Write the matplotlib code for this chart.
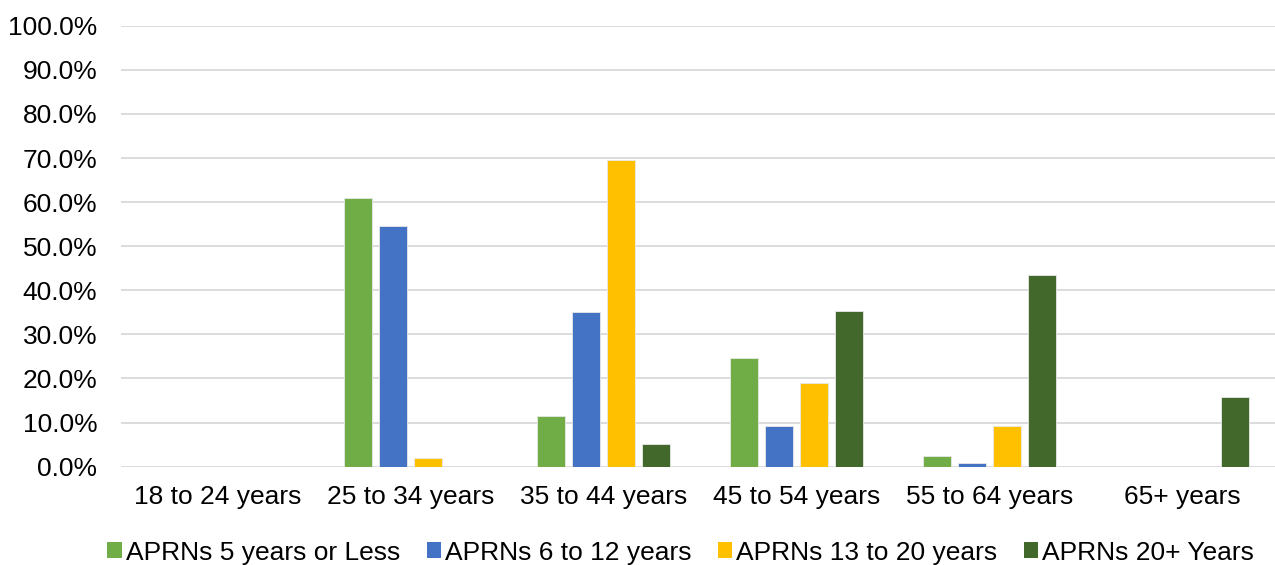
import matplotlib.pyplot as plt
import numpy as np
from matplotlib.patches import Patch
from matplotlib.ticker import FuncFormatter

plt.rcParams['font.family'] = ['Liberation Sans', 'DejaVu Sans']

# age bands and share of APRNs in each, by years of experience (%)
age_groups = ["18 to 24 years", "25 to 34 years", "35 to 44 years",
              "45 to 54 years", "55 to 64 years", "65+ years"]
series_names = ["APRNs 5 years or Less", "APRNs 6 to 12 years",
                "APRNs 13 to 20 years", "APRNs 20+ Years"]
five_or_less = [0, 60.9, 11.6, 24.6, 2.5, 0]
six_to_twelve = [0, 54.5, 35.1, 9.3, 0.8, 0]
thirteen_to_twenty = [0, 1.9, 69.5, 18.9, 9.3, 0]
twenty_plus = [0, 0, 5.1, 35.3, 43.5, 15.7]

colors = ["#70AD47", "#4472C4", "#FFC000", "#43682B"]
values = [five_or_less, six_to_twelve, thirteen_to_twenty, twenty_plus]

fig = plt.figure(figsize=(12.75, 5.65), dpi=100)
ax = fig.add_axes([0.0947, 0.174, 0.9053, 0.7805])

x = np.arange(len(age_groups))
step = 0.1813
width = 0.1435
for i, (vals, col) in enumerate(zip(values, colors)):
    v = np.array(vals, dtype=float)
    mask = v > 0
    ax.bar(x[mask] + (i - 1.5) * step, v[mask], width=width, color=col,
           edgecolor="#E8E8E8", linewidth=0.6, zorder=3)

ax.set_ylim(0, 100)
ax.set_xlim(-0.5, 5.48)
ax.set_yticks(np.arange(0, 101, 10))
ax.yaxis.set_major_formatter(FuncFormatter(lambda v, p: f"{v:.1f}%"))
ax.set_xticks(x)
ax.set_xticklabels(age_groups)
ax.grid(axis="y", color="#D9D9D9", linewidth=1.3, zorder=0)
for s in ax.spines.values():
    s.set_visible(False)
ax.tick_params(axis="both", length=0, labelsize=19, colors="#000000")
ax.tick_params(axis="y", pad=17)
ax.tick_params(axis="x", pad=13)

handles = [Patch(facecolor=c, edgecolor="none") for c in colors]
fig.legend(handles, series_names, loc="center", bbox_to_anchor=(0.534, 0.022),
           ncol=4, frameon=False, fontsize=19, handlelength=0.55, handleheight=0.55,
           handletextpad=0.15, columnspacing=1.0)

fig.savefig("out.png", dpi=100)
